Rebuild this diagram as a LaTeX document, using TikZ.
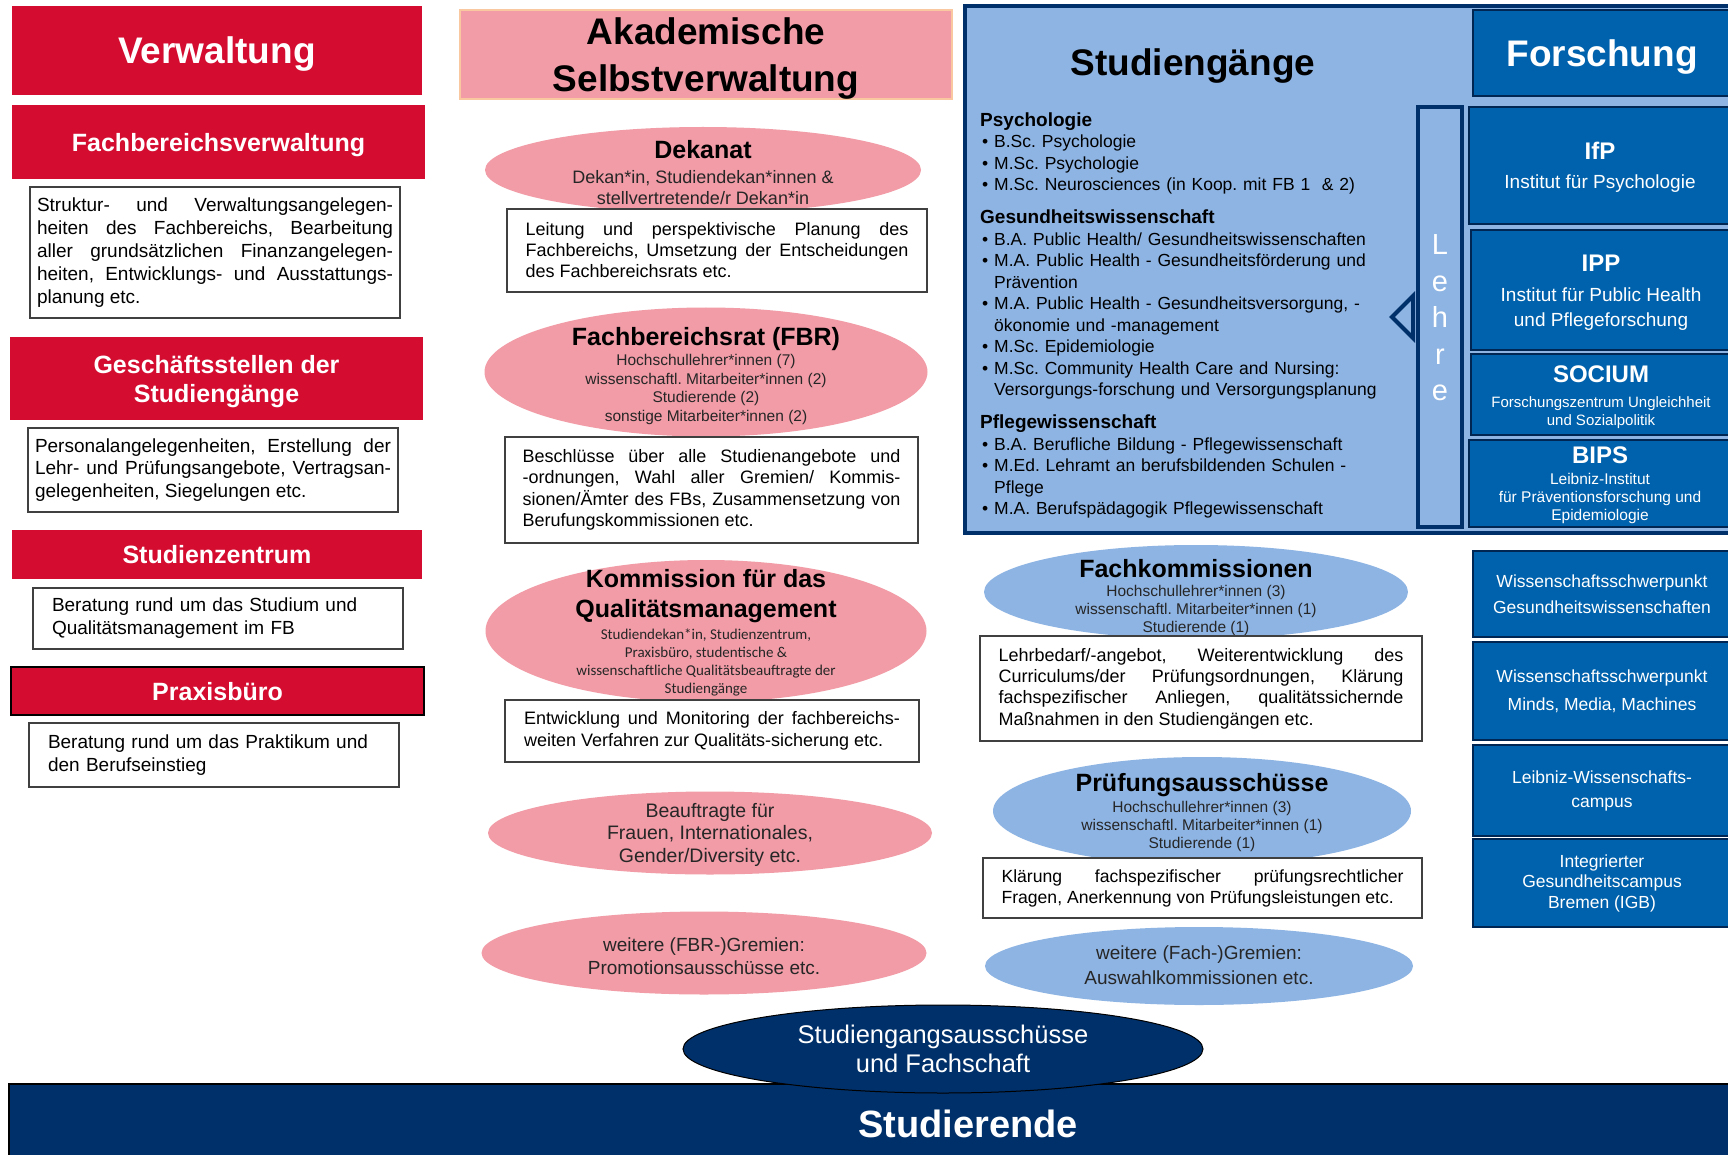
\documentclass[tikz,border=0pt]{standalone}
\usepackage{fontspec}
\setmainfont{Liberation Sans}
\newfontfamily\calibri{Carlito}
\usetikzlibrary{shapes.geometric}
\definecolor{verwred}{RGB}{212,12,48}
\definecolor{akapink}{RGB}{241,156,167}
\definecolor{akaframe}{RGB}{250,200,160}
\definecolor{stublue}{RGB}{142,180,227}
\definecolor{forblue}{RGB}{0,98,172}
\definecolor{navy}{RGB}{0,48,105}
\definecolor{boxline}{RGB}{64,64,64}
\newcommand{\fsz}[2]{\fontsize{#1}{#2}\selectfont}
\newcommand{\sgitem}{\makebox[14pt][l]{\hspace{2pt}\textbullet}}
\newcommand{\sgcont}{\hspace*{14pt}}
\tolerance=9999
\hyphenpenalty=10000
\hbadness=10000
\tikzset{
  verwhead/.style={fill=verwred,text=white,font=\bfseries\fsz{25}{29},align=center,inner sep=0pt,text depth=0pt},
  infobox/.style={draw=boxline,fill=white,line width=1.3pt,align=justify,inner ysep=0pt,font=\fsz{18}{21}},
  pinkell/.style={ellipse,fill=akapink,inner sep=0pt},
  blueell/.style={ellipse,fill=stublue,inner sep=0pt},
  elltitle/.style={align=center,inner sep=0pt,text depth=0pt,font=\bfseries\fsz{25}{30}},
  ellsub/.style={align=center,inner sep=0pt,text=black!85,font=\fsz{15.5}{18.5}},
  forbox/.style={fill=forblue,draw=navy!80!black,line width=1.5pt,text=white,align=center,inner sep=0pt},
  fortitle/.style={text=white,inner sep=0pt,font=\bfseries\fsz{24}{28}},
  forsub/.style={text=white,align=center,inner sep=0pt,text depth=0pt,font=\fsz{19}{25}},
}
\begin{document}
\frenchspacing
\begin{tikzpicture}[x=1pt,y=-1pt]
  \clip (0,0) rectangle (1728,1155);
  \fill[white] (0,0) rectangle (1728,1155);

  \node[verwhead,font=\bfseries\fsz{37}{44},minimum width=410pt,minimum height=89pt] (verw) at (217,50.5) {Verwaltung};
  \node[verwhead,minimum width=413pt,minimum height=74pt] (fbv) at (218.5,142) {Fachbereichsverwaltung};
  \node[infobox,font=\fsz{19}{22.8},text width=356pt,inner xsep=7pt,minimum height=131pt] (fbv-info) at (215,252.5)
    {Struktur- und Verwaltungsangelegen-\linebreak heiten des Fachbereichs, Bearbeitung\linebreak aller grundsätzlichen Finanzangelegen-\linebreak heiten, Entwicklungs- und Ausstattungs-\linebreak planung etc.};
  \node[verwhead,minimum width=413pt,minimum height=83pt] (gst) at (216.5,378.5) {Geschäftsstellen der\\Studiengänge};
  \node[infobox,font=\fsz{19}{22.5},text width=356pt,inner xsep=7pt,minimum height=84pt] (gst-info) at (213,470)
    {Personalangelegenheiten, Erstellung der\linebreak Lehr- und Prüfungsangebote, Vertragsan-\linebreak gelegenheiten, Siegelungen etc.};
  \node[verwhead,minimum width=410pt,minimum height=49pt] (sz) at (217,554.5) {Studienzentrum};
  \node[infobox,align=left,font=\fsz{19}{23},text width=332pt,inner xsep=19pt,minimum height=61pt] (sz-info) at (218,618.5)
    {Beratung rund um das Studium und\\Qualitätsmanagement im FB};
  \node[verwhead,draw=black,line width=1.5pt,minimum width=413pt,minimum height=48pt] (pb) at (217.5,691) {Praxisbüro};
  \node[infobox,align=left,font=\fsz{19}{23},text width=332pt,inner xsep=19pt,minimum height=64pt] (pb-info) at (214,755)
    {Beratung rund um das Praktikum und\\den Berufseinstieg};

  \node[draw=akaframe,fill=akapink,line width=1.2pt,font=\bfseries\fsz{37}{47},align=center,inner sep=0pt,text depth=0pt,
    minimum width=492pt,minimum height=89pt] (aka) at (706,54.5) {Akademische\\Selbstverwaltung};

  \node[pinkell,minimum width=436pt,minimum height=86pt] (dek) at (703,170) {};
  \node[elltitle] (dek-title) at (703,149) {Dekanat};
  \node[ellsub,font=\fsz{18}{21}] (dek-sub) at (703,187.5) {Dekan*in, Studiendekan*innen \&\\stellvertretende/r Dekan*in};
  \node[infobox,text width=383pt,inner xsep=18.5pt,minimum height=83pt] (dek-info) at (717,250.5)
    {Leitung und perspektivische Planung des\linebreak Fachbereichs, Umsetzung der Entscheidungen\linebreak des Fachbereichsrats etc.};

  \node[pinkell,minimum width=443pt,minimum height=129pt] (fbr) at (706,372) {};
  \node[elltitle] (fbr-title) at (706,336) {Fachbereichsrat (FBR)};
  \node[ellsub] (fbr-sub) at (706,389.5) {Hochschullehrer*innen (7)\\wissenschaftl. Mitarbeiter*innen (2)\\Studierende (2)\\sonstige Mitarbeiter*innen (2)};
  \node[infobox,font=\fsz{18}{21.5},text width=378pt,inner xsep=17.5pt,minimum height=106pt] (fbr-info) at (711.5,490)
    {Beschlüsse über alle Studienangebote und\linebreak -ordnungen, Wahl aller Gremien/ Kommis-\linebreak sionen/Ämter des FBs, Zusammensetzung von\linebreak Berufungskommissionen etc.};

  \node[pinkell,minimum width=441pt,minimum height=142pt] (kqm) at (706,631) {};
  \node[elltitle] (kqm-title) at (706,593) {Kommission für das\\Qualitätsmanagement};
  \node[ellsub,font=\calibri\fsz{15}{18.3}] (kqm-sub) at (706,662.5) {Studiendekan*in, Studienzentrum,\\Praxisbüro, studentische \&\\wissenschaftliche Qualitätsbeauftragte der\\Studiengänge};
  \node[infobox,font=\fsz{18}{22},text width=376pt,inner xsep=19pt,minimum height=62pt] (kqm-info) at (712,731)
    {Entwicklung und Monitoring der fachbereichs-\linebreak weiten Verfahren zur Qualitäts-sicherung etc.};

  \node[pinkell,minimum width=444pt,minimum height=83pt] (beauf) at (710,833) {};
  \node[ellsub,font=\fsz{19.5}{22.5}] (beauf-txt) at (710,834.5) {Beauftragte für\\Frauen, Internationales,\\Gender/Diversity etc.};
  \node[pinkell,minimum width=445pt,minimum height=83pt] (wfbr) at (704,953) {};
  \node[ellsub,font=\fsz{19}{23}] (wfbr-txt) at (704,956.5) {weitere (FBR-)Gremien:\\Promotionsausschüsse etc.};

  \node[draw=navy,fill=stublue,line width=4pt,inner sep=0pt,minimum width=780pt,minimum height=527pt] (stg) at (1355,269.5) {};
  \node[inner sep=0pt,text depth=0pt,font=\bfseries\fsz{37}{44}] (stg-title) at (1193,62) {Studiengänge};
  \node[anchor=base west,text width=420pt,align=left,inner sep=0pt,font=\fsz{17.5}{21.5}] (stg-list) at (980,126.5)
    {{\bfseries\fsz{19}{21.5}Psychologie}\\
     \sgitem B.Sc. Psychologie\\
     \sgitem M.Sc. Psychologie\\
     \sgitem M.Sc. Neurosciences (in Koop. mit FB 1 \ \& 2)\\[11.5pt]
     {\bfseries\fsz{19}{21.5}Gesundheitswissenschaft}\\
     \sgitem B.A. Public Health/ Gesundheitswissenschaften\\
     \sgitem M.A. Public Health - Gesundheitsförderung und\\
     \sgcont Prävention\\
     \sgitem M.A. Public Health - Gesundheitsversorgung, -\\
     \sgcont ökonomie und -management\\
     \sgitem M.Sc. Epidemiologie\\
     \sgitem M.Sc. Community Health Care and Nursing:\\
     \sgcont Versorgungs-forschung und Versorgungsplanung\\[11.5pt]
     {\bfseries\fsz{19}{21.5}Pflegewissenschaft}\\
     \sgitem B.A. Berufliche Bildung - Pflegewissenschaft\\
     \sgitem M.Ed. Lehramt an berufsbildenden Schulen -\\
     \sgcont Pflege\\
     \sgitem M.A. Berufspädagogik Pflegewissenschaft};

  \node[draw=navy,fill=stublue,line width=4pt,inner sep=0pt,minimum width=44pt,minimum height=420pt] (lehre) at (1440,317) {};
  \node[text=white,align=center,inner sep=0pt,font=\fsz{29}{36.5}] (lehre-txt) at (1440,318) {L\\e\\h\\r\\e};
  \draw[navy,fill=stublue,line width=4pt,line join=miter] ([shift={(-3,-21)}]lehre.west) -- ++(-21,21) -- ++(21,21) -- cycle;

  \node[forbox,font=\bfseries\fsz{37}{44},text depth=0pt,minimum width=258pt,minimum height=86pt] (forsch) at (1602,53) {Forschung};
  \node[forbox,minimum width=262pt,minimum height=117pt] (ifp) at (1600,165.5) {};
  \node[fortitle] (ifp-title) at (1600,151) {IfP};
  \node[forsub] (ifp-sub) at (1600,182) {Institut für Psychologie};
  \node[forbox,minimum width=260pt,minimum height=120pt] (ipp) at (1601,290) {};
  \node[fortitle] (ipp-title) at (1601,263) {IPP};
  \node[forsub] (ipp-sub) at (1601,307.5) {Institut für Public Health\\und Pflegeforschung};
  \node[forbox,minimum width=260pt,minimum height=81pt] (socium) at (1601,394.5) {};
  \node[fortitle] (socium-title) at (1601,374) {SOCIUM};
  \node[forsub,font=\fsz{15}{18}] (socium-sub) at (1601,411) {Forschungszentrum Ungleichheit\\und Sozialpolitik};
  \node[forbox,minimum width=262pt,minimum height=87pt] (bips) at (1600,483.5) {};
  \node[fortitle] (bips-title) at (1600,455) {BIPS};
  \node[forsub,font=\fsz{15.5}{18}] (bips-sub) at (1600,497) {Leibniz-Institut\\für Präventionsforschung und\\Epidemiologie};

  \node[forbox,font=\fsz{17.5}{26},minimum width=258pt,minimum height=86pt] (ws-gesund) at (1602,594) {Wissenschaftsschwerpunkt\\Gesundheitswissenschaften};
  \node[forbox,font=\fsz{17.5}{28},minimum width=258pt,minimum height=98pt] (ws-minds) at (1602,691) {Wissenschaftsschwerpunkt\\Minds, Media, Machines};
  \node[forbox,font=\fsz{17.5}{24},minimum width=258pt,minimum height=91pt] (leibniz) at (1602,790.5) {Leibniz-Wissenschafts-\\campus};
  \node[forbox,font=\fsz{17.5}{20.5},minimum width=258pt,minimum height=88pt] (igb) at (1602,883) {Integrierter\\Gesundheitscampus\\Bremen (IGB)};

  \node[blueell,minimum width=424pt,minimum height=94pt] (fk) at (1196,592) {};
  \node[elltitle] (fk-title) at (1196,568) {Fachkommissionen};
  \node[ellsub,font=\fsz{15.5}{18}] (fk-sub) at (1196,610) {Hochschullehrer*innen (3)\\wissenschaftl. Mitarbeiter*innen (1)\\Studierende (1)};
  \node[infobox,font=\fsz{18}{21.3},text width=405pt,inner xsep=18.5pt,minimum height=105pt] (fk-info) at (1201,688.5)
    {Lehrbedarf/-angebot, Weiterentwicklung des\linebreak Curriculums/der Prüfungsordnungen, Klärung\linebreak fachspezifischer Anliegen, qualitätssichernde\linebreak Maßnahmen in den Studiengängen etc.};

  \node[blueell,minimum width=418pt,minimum height=108pt] (pa) at (1202,811) {};
  \node[elltitle] (pa-title) at (1202,782) {Prüfungsausschüsse};
  \node[ellsub,font=\fsz{15.5}{18}] (pa-sub) at (1202,826) {Hochschullehrer*innen (3)\\wissenschaftl. Mitarbeiter*innen (1)\\Studierende (1)};
  \node[infobox,font=\fsz{17.6}{21},text width=402pt,inner xsep=18.5pt,minimum height=60pt] (pa-info) at (1202.5,888)
    {Klärung fachspezifischer prüfungsrechtlicher\linebreak Fragen, Anerkennung von Prüfungsleistungen etc.};

  \node[blueell,minimum width=428pt,minimum height=78pt] (wfach) at (1199,966) {};
  \node[ellsub,font=\fsz{19}{25}] (wfach-txt) at (1199,965.5) {weitere (Fach-)Gremien:\\Auswahlkommissionen etc.};

  \node[fill=navy,draw=black,line width=2pt,inner sep=0pt,text=white,font=\bfseries\fsz{38}{44},
    minimum width=1918pt,minimum height=80pt] (studband) at (968,1124) {Studierende};
  \node[ellipse,fill=navy,draw=black,line width=1pt,inner sep=0pt,minimum width=520pt,minimum height=88pt] (sga) at (943,1049) {};
  \node[text=white,align=center,inner sep=0pt,font=\fsz{25.5}{29}] (sga-txt) at (943,1048.5) {Studiengangsausschüsse\\und Fachschaft};
\end{tikzpicture}
\end{document}
